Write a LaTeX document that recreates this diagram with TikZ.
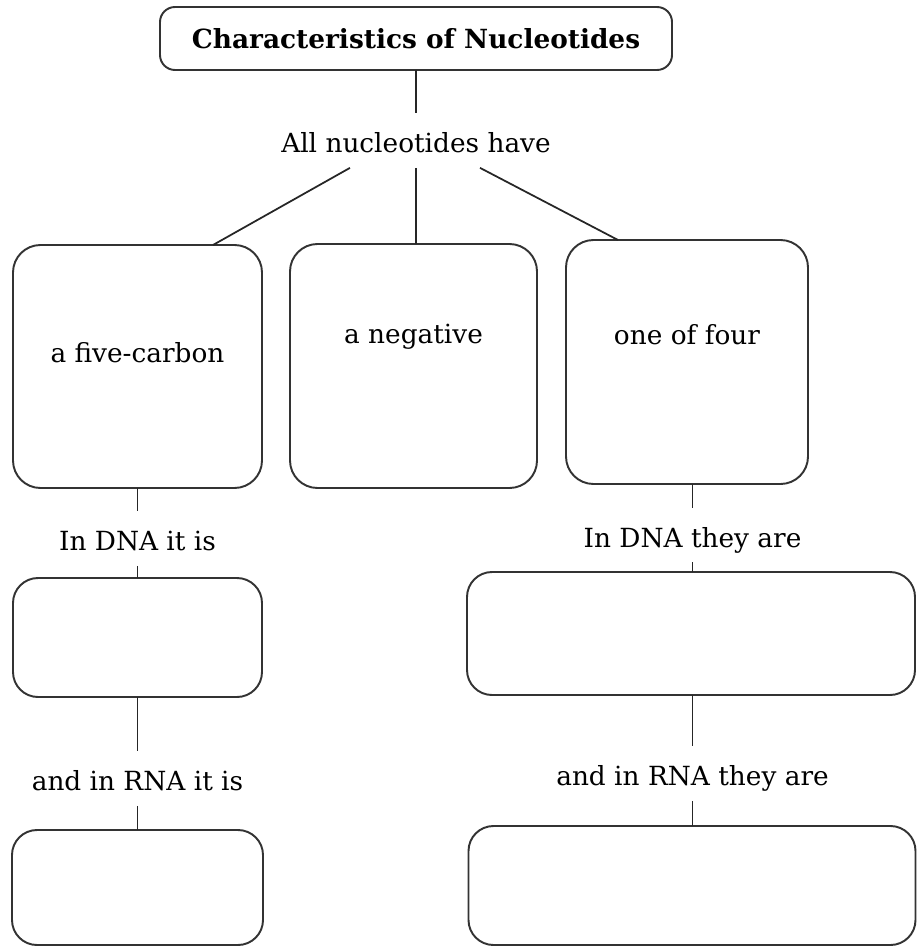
\documentclass[tikz,border=0pt]{standalone}
\usepackage{fontspec}
\setmainfont{DejaVu Serif}
\usetikzlibrary{positioning}
\tikzset{
	bubble/.style={draw=black!80, line width=1.1pt, rounded corners=0.55cm, outer sep=0pt},
	caption/.style={inner sep=0pt, font=\fontsize{15}{18}\selectfont}
}
\begin{document}
\begin{tikzpicture}[Label/.style={caption, minimum height=1.08cm, text height=0.56cm, text depth=0.08cm}, Link/.style={draw=black!85, line width=1pt}]
		\useasboundingbox (0,0) rectangle (18.38,-18.94);
		% title and first level
		\node [bubble, rounded corners=0.3cm, minimum width=10.24cm, minimum height=1.26cm, font=\fontsize{15}{18}\selectfont\bfseries] (title) at (8.32,-0.77) {Characteristics of Nucleotides};
		\node [Label] (have) at (8.32,-2.81) {All nucleotides have};
		\node [bubble, minimum width=4.98cm, minimum height=4.86cm] (sugar) at (2.75,-7.33) {};
		\node [bubble, minimum width=4.94cm, minimum height=4.88cm] (phosphate) at (8.27,-7.32) {};
		\node [bubble, minimum width=4.84cm, minimum height=4.88cm] (bases) at (13.74,-7.24) {};
		\node [caption] (sugarText) at ([yshift=-2.16cm]sugar.north) {a five-carbon};
		\node [caption] (phosphateText) at ([yshift=-1.86cm]phosphate.north) {a negative};
		\node [caption] (basesText) at ([yshift=-1.9cm]bases.north) {one of four};
		% sugar column
		\node [Label] (dnaSugar) at (2.75,-10.77) {In DNA it is};
		\node [bubble, rounded corners=0.5cm, minimum width=4.98cm, minimum height=2.38cm] (dnaSugarBox) at (2.75,-12.75) {};
		\node [Label] (rnaSugar) at (2.75,-15.57) {and in RNA it is};
		\node [bubble, rounded corners=0.5cm, minimum width=5.02cm, minimum height=2.3cm] (rnaSugarBox) at (2.75,-17.75) {};
		% bases column
		\node [Label] (dnaBases) at (13.85,-10.7) {In DNA they are};
		\node [bubble, rounded corners=0.5cm, minimum width=8.96cm, minimum height=2.46cm] (dnaBasesBox) at (13.82,-12.67) {};
		\node [Label] (rnaBases) at (13.85,-15.47) {and in RNA they are};
		\node [bubble, rounded corners=0.5cm, minimum width=8.94cm, minimum height=2.38cm] (rnaBasesBox) at (13.84,-17.71) {};
		% connectors
		\draw [Link] (title) -- (have);
		\draw [Link] ([xshift=-1.32cm]have.south) -- ([xshift=1.51cm]sugar.north);
		\draw [Link] (have.south) -- (have.south |- phosphate.north);
		\draw [Link] ([xshift=1.28cm]have.south) -- ([xshift=-1.38cm]bases.north);
		\draw [Link] (sugar) -- (dnaSugar) -- (dnaSugarBox) -- (rnaSugar) -- (rnaSugarBox);
		\draw [Link] (dnaBases |- bases.south) -- (dnaBases) -- (dnaBases |- dnaBasesBox.north);
		\draw [Link] (dnaBases |- dnaBasesBox.south) -- (rnaBases) -- (rnaBases |- rnaBasesBox.north);
	\end{tikzpicture}
\end{document}
